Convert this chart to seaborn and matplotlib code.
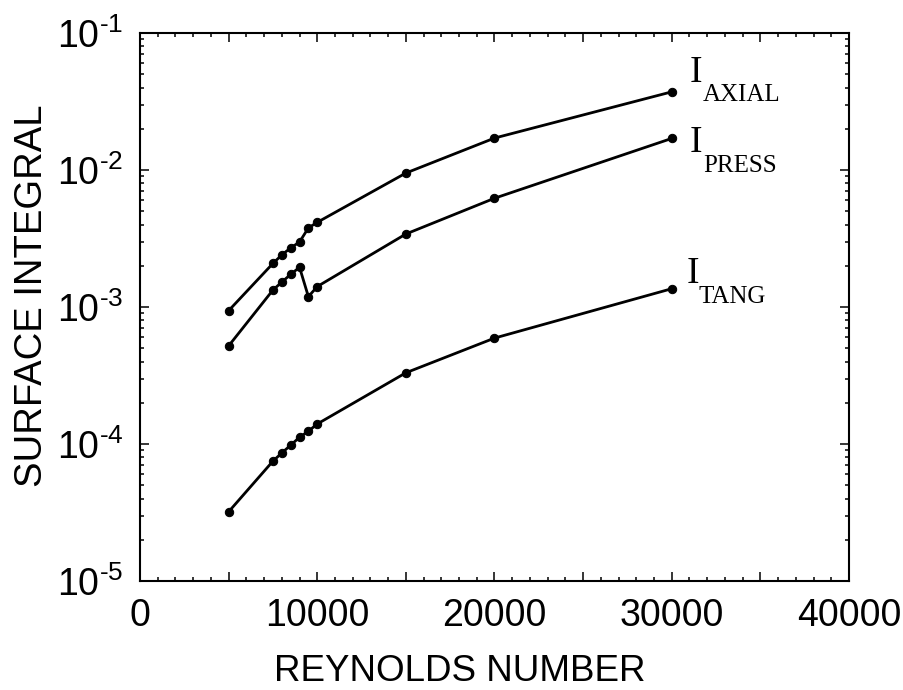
import matplotlib
matplotlib.use("Agg")
import matplotlib.pyplot as plt
import matplotlib.ticker as mticker
import numpy as np
import pandas as pd
import seaborn as sns

# ---- data ----
reynolds = [5000, 7500, 8000, 8500, 9000, 9500, 10000, 15000, 20000, 30000]
i_axial = [9.4e-4, 2.08e-3, 2.40e-3, 2.70e-3, 2.98e-3, 3.78e-3, 4.15e-3, 9.5e-3, 1.71e-2, 3.72e-2]
i_press = [5.2e-4, 1.33e-3, 1.52e-3, 1.73e-3, 1.95e-3, 1.19e-3, 1.41e-3, 3.41e-3, 6.22e-3, 1.70e-2]
i_tang = [3.2e-5, 7.5e-5, 8.6e-5, 9.8e-5, 1.12e-4, 1.24e-4, 1.40e-4, 3.31e-4, 5.93e-4, 1.36e-3]
series_names = ["AXIAL", "PRESS", "TANG"]
x_ticklabels = ["0", "10000", "20000", "30000", "40000"]

sns.set_style("ticks")
plt.rcParams["font.family"] = ["Liberation Sans", "DejaVu Sans"]
plt.rcParams["mathtext.fontset"] = "custom"
plt.rcParams["mathtext.rm"] = "Liberation Sans"
plt.rcParams["mathtext.default"] = "regular"
plt.rcParams["axes.unicode_minus"] = False
for k in ["text.color", "axes.labelcolor", "xtick.color", "ytick.color", "axes.edgecolor"]:
    plt.rcParams[k] = "black"

df = pd.concat([
    pd.DataFrame({"Re": reynolds, "val": vals, "series": name})
    for name, vals in zip(series_names, [i_axial, i_press, i_tang])
], ignore_index=True)

fig = plt.figure(figsize=(9.04, 6.90), dpi=100)
ax = fig.add_axes([140 / 904, 1 - 581 / 690, 709 / 904, 548 / 690])

sns.lineplot(data=df, x="Re", y="val", hue="series", palette=["black"] * 3,
             marker="o", markersize=6, markeredgecolor="black", linewidth=2.0,
             estimator=None, errorbar=None, legend=False, ax=ax)

ax.set_yscale("log")
ax.set_xlim(0, 40000)
ax.set_ylim(1e-5, 1e-1)

ax.xaxis.set_major_locator(mticker.MultipleLocator(5000))
ax.xaxis.set_minor_locator(mticker.MultipleLocator(1000))
ax.xaxis.set_major_formatter(mticker.FuncFormatter(
    lambda v, p: x_ticklabels[int(round(v / 10000))] if abs(v % 10000) < 1 and 0 <= int(round(v / 10000)) < len(x_ticklabels) else ""))
ax.yaxis.set_major_locator(mticker.LogLocator(base=10, numticks=10))
ax.yaxis.set_major_formatter(mticker.FuncFormatter(
    lambda v, p: r"$10^{\text{-%d}}$" % int(round(-np.log10(v))) if v < 1 else "1"))
ax.yaxis.set_minor_locator(mticker.LogLocator(base=10, subs=np.arange(2, 10), numticks=20))
ax.yaxis.set_minor_formatter(mticker.NullFormatter())

ax.tick_params(which="both", direction="in", top=True, right=True, width=1.1, color="black")
ax.tick_params(which="major", length=6.5)
ax.tick_params(which="minor", length=3.2)
ax.tick_params(axis="x", which="major", labelsize=27, pad=12)
ax.tick_params(axis="y", which="major", labelsize=27, pad=12)

for s in ax.spines.values():
    s.set_linewidth(1.5)
    s.set_color("black")

ax.set_xlabel("REYNOLDS NUMBER", fontsize=26.5)
ax.xaxis.label.set_va("baseline")
ax.xaxis.set_label_coords(0.451, (581 - 681) / 548)
ax.set_ylabel("SURFACE INTEGRAL", fontsize=27.5)
ax.yaxis.label.set_va("center")
ax.yaxis.label.set_ha("center")
ax.yaxis.set_label_coords((32 - 140) / 709, (581 - 296) / 548)

# ---- curve labels ----
serif = ["Liberation Serif", "DejaVu Serif"]
label_offsets = {
    "AXIAL": ((18, 10), (31, -8.7)),
    "PRESS": ((18, -13.4), (31, -33.4)),
    "TANG": ((15, 5.7), (27, -14)),
}
for name, vals in zip(series_names, [i_axial, i_press, i_tang]):
    (ix, iy), (sx, sy) = label_offsets[name]
    ax.annotate("I", xy=(reynolds[-1], vals[-1]), xytext=(ix, iy), textcoords="offset pixels",
                ha="left", va="baseline", fontsize=27, family=serif)
    ax.annotate(name, xy=(reynolds[-1], vals[-1]), xytext=(sx, sy), textcoords="offset pixels",
                ha="left", va="baseline", fontsize=18, family=serif)

fig.savefig("out.png", dpi=100)
